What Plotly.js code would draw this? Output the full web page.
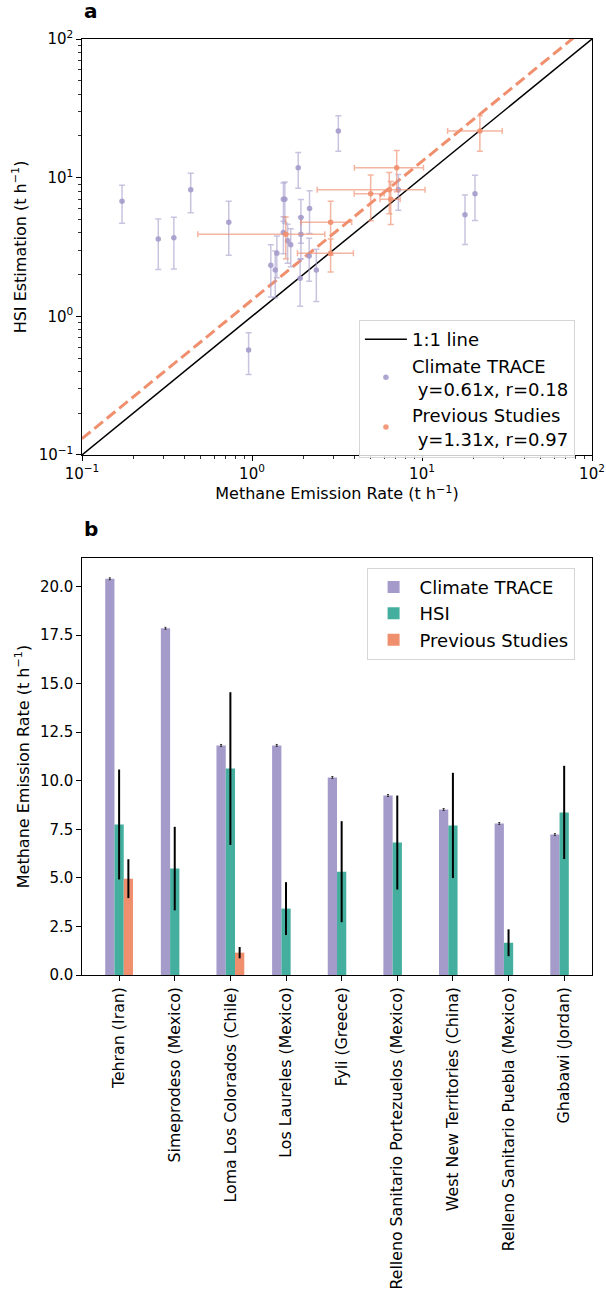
<!DOCTYPE html>
<html>
<head>
<meta charset="utf-8">
<script src="https://cdn.plot.ly/plotly-3.0.1.min.js"></script>
<style>html,body{margin:0;padding:0;background:#fff;}#chart{width:606px;height:1296px;}</style>
</head>
<body>
<div id="chart"></div>
<script>
// ---------- Panel a data ----------
const ctX = [0.172,0.281,0.347,0.436,0.73,0.955,1.29,1.37,1.40,1.53,1.56,1.53,1.62,1.69,1.87,1.92,1.94,1.94,2.17,2.18,2.39,3.22,7.26,17.9,20.5];
const ctY = [6.75,3.61,3.69,8.18,4.76,0.571,2.33,2.16,2.85,7.0,7.0,4.03,3.51,3.28,11.8,1.88,5.17,3.9,2.72,6.0,2.16,21.7,8.18,5.4,7.66];
const ctYerr = [2.07,1.43,1.5,2.6,2.0,0.19,0.95,0.8,0.95,2.15,2.3,1.2,1.1,1.0,3.4,0.7,1.8,1.3,0.93,2.05,0.88,6.2,2.35,2.1,2.75];

const psX = [1.58,2.9,2.9,4.99,6.42,6.55,7.1,21.9];
const psY = [3.9,4.76,2.85,7.66,8.18,7.0,11.8,21.7];
const psXerr = [1.1,0.96,1.05,1.0,4.0,0.89,3.1,7.75];
const psYerr = [1.3,2.0,0.76,2.77,2.7,2.4,3.9,6.2];

const lineX = [0.1, 100];
const fitSlopePS = 1.31;
const logTickVals = [0.1,1,10,100];
const logTickText = ['10<sup>−1</sup>','10<sup>0</sup>','10<sup>1</sup>','10<sup>2</sup>'];
const minorVals = [0.2,0.3,0.4,0.5,0.6,0.7,0.8,0.9,2,3,4,5,6,7,8,9,20,30,40,50,60,70,80,90];

// ---------- Panel b data ----------
const sites = ["Tehran (Iran)","Simeprodeso (Mexico)","Loma Los Colorados (Chile)","Los Laureles (Mexico)","Fyli (Greece)","Relleno Sanitario Portezuelos (Mexico)","West New Territories (China)","Relleno Sanitario Puebla (Mexico)","Ghabawi (Jordan)"];
const ctBar = [20.4,17.85,11.82,11.82,10.17,9.24,8.52,7.8,7.23];
const ctBarErr = [0.05,0.05,0.05,0.05,0.05,0.05,0.05,0.05,0.05];
const hsiBar = [7.75,5.48,10.63,3.42,5.32,6.82,7.7,1.66,8.37];
const hsiErr = [2.83,2.15,3.93,1.36,2.6,2.42,2.71,0.69,2.4];
const prevBar = [4.96,null,1.15,null,null,null,null,null,null];
const prevErr = [1.0,null,0.29,null,null,null,null,null,null];

const PURPLE = '#a59bcb', TEAL = '#45af9f', ORANGE = '#f08f6e';
const FONT = 'DejaVu Sans, sans-serif';

const traces = [
  {x: lineX, y: lineX.map(v => v * fitSlopePS), mode:'lines', xaxis:'x', yaxis:'y',
   line:{color:ORANGE, width:3, dash:'11px,5px'}, showlegend:false, hoverinfo:'skip'},
  {x: lineX, y: lineX, mode:'lines', name:'1:1 line', xaxis:'x', yaxis:'y',
   line:{color:'black', width:1.5}, legend:'legend'},
  {x: ctX, y: ctY, mode:'markers', name:'Climate TRACE<br>\u00a0y=0.61x, r=0.18', xaxis:'x', yaxis:'y',
   marker:{color:PURPLE, size:5.5, opacity:0.9},
   error_y:{type:'data', array:ctYerr, visible:true, color:'rgba(165,155,203,0.6)', thickness:1.5, width:3},
   legend:'legend'},
  {x: psX, y: psY, mode:'markers', name:'Previous Studies<br>\u00a0y=1.31x, r=0.97', xaxis:'x', yaxis:'y',
   marker:{color:ORANGE, size:5.5, opacity:0.9},
   error_y:{type:'data', array:psYerr, visible:true, color:'rgba(240,143,110,0.65)', thickness:1.5, width:3},
   error_x:{type:'data', array:psXerr, visible:true, color:'rgba(240,143,110,0.65)', thickness:1.5, width:3},
   legend:'legend'},
  {type:'bar', x: sites, y: ctBar, name:'Climate TRACE', xaxis:'x2', yaxis:'y2',
   marker:{color:PURPLE}, error_y:{type:'data', array:ctBarErr, visible:true, color:'#333', thickness:1, width:1},
   legend:'legend2'},
  {type:'bar', x: sites, y: hsiBar, name:'HSI', xaxis:'x2', yaxis:'y2',
   marker:{color:TEAL}, error_y:{type:'data', array:hsiErr, visible:true, color:'black', thickness:2, width:0},
   legend:'legend2'},
  {type:'bar', x: sites, y: prevBar, name:'Previous Studies', xaxis:'x2', yaxis:'y2',
   marker:{color:ORANGE}, error_y:{type:'data', array:prevErr, visible:true, color:'black', thickness:2, width:0},
   legend:'legend2'}
];

const axCommon = {showgrid:false, zeroline:false, showline:true, linecolor:'black', linewidth:1, mirror:true,
  ticks:'outside', ticklen:4.7, tickwidth:1, tickcolor:'black', tickfont:{size:15, color:'black', family:FONT}};

const layout = {
  width:606, height:1296,
  margin:{l:82, r:14, t:39, b:321, autoexpand:false},
  paper_bgcolor:'white', plot_bgcolor:'white',
  font:{family:FONT, color:'black'},
  barmode:'group', bargap:0.5, bargroupgap:0,
  xaxis: Object.assign({}, axCommon, {type:'log', range:[-1,2], domain:[0,1], anchor:'y',
    tickmode:'array', tickvals:logTickVals, ticktext:logTickText,
    minor:{tickmode:'array', tickvals:minorVals, ticks:'outside', ticklen:2.7, tickwidth:0.8, tickcolor:'black'},
    title:{text:'Methane Emission Rate (t h<sup>−1</sup>)', font:{size:16, family:FONT}, standoff:6}}),
  yaxis: Object.assign({}, axCommon, {type:'log', range:[-1,2], domain:[0.5556,1], anchor:'x',
    tickmode:'array', tickvals:logTickVals, ticktext:logTickText,
    minor:{tickmode:'array', tickvals:minorVals, ticks:'outside', ticklen:2.7, tickwidth:0.8, tickcolor:'black'},
    title:{text:'HSI Estimation (t h<sup>−1</sup>)', font:{size:16, family:FONT}, standoff:8}}),
  xaxis2: Object.assign({}, axCommon, {type:'category', range:[-0.667,8.5], domain:[0,1], anchor:'y2',
    tickangle:-90, tickfont:{size:15.8, color:'black', family:FONT}, automargin:false}),
  yaxis2: Object.assign({}, axCommon, {range:[0,21.47], domain:[0,0.4455], anchor:'x2',
    tick0:0, dtick:2.5, tickformat:'.1f',
    title:{text:'Methane Emission Rate (t h<sup>−1</sup>)', font:{size:16, family:FONT}, standoff:6}}),
  legend:{x:0.543, y:0.6998, xanchor:'left', yanchor:'top', font:{size:18, family:FONT}, itemwidth:42,
    bgcolor:'rgba(255,255,255,0.8)', bordercolor:'#d6d6d6', borderwidth:1},
  legend2:{x:0.558, y:0.4351, xanchor:'left', yanchor:'top', font:{size:18, family:FONT}, itemwidth:42,
    bgcolor:'rgba(255,255,255,0.8)', bordercolor:'#d6d6d6', borderwidth:1},
  annotations:[
    {text:'<b>a</b>', xref:'paper', yref:'paper', x:0, y:1.015, xanchor:'left', yanchor:'bottom', showarrow:false, font:{size:20, family:FONT}},
    {text:'<b>b</b>', xref:'paper', yref:'paper', x:0, y:0.4615, xanchor:'left', yanchor:'bottom', showarrow:false, font:{size:20, family:FONT}}
  ]
};

Plotly.newPlot('chart', traces, layout, {displayModeBar:false, staticPlot:true});
</script>
</body>
</html>
